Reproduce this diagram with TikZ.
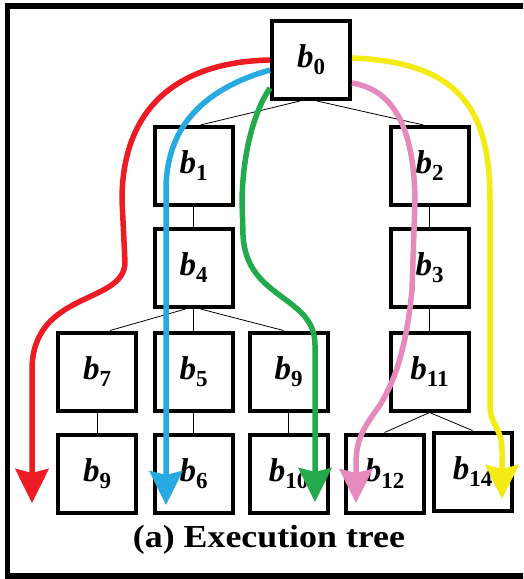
\documentclass[tikz,border=0pt]{standalone}
\usepackage{fontspec}
\setmainfont{Liberation Serif}
\usetikzlibrary{arrows.meta}

\definecolor{pathred}{RGB}{237,28,36}
\definecolor{pathblue}{RGB}{39,170,225}
\definecolor{pathgreen}{RGB}{34,170,76}
\definecolor{pathpink}{RGB}{230,138,190}
\definecolor{pathyellow}{RGB}{245,235,20}

% block label: bold italic b with an upright bold subscript
\newcommand{\blab}[1]{{\fontsize{33}{33}\selectfont\bfseries\itshape b}\raisebox{-7pt}{\fontsize{23}{23}\selectfont\bfseries #1}}

\tikzset{
  blk/.style={draw, line width=4pt, minimum width=78pt, minimum height=78pt,
              inner sep=0pt, fill=white},
  treeedge/.style={line width=0.8pt},
  route/.style={line width=5.5pt, line join=round,
                -{Stealth[length=34pt,width=33pt,inset=4pt]}},
}

\begin{document}
\begin{tikzpicture}[x=1pt,y=-1pt]
  \clip (0,0) rectangle (523,579);
  \fill[white] (0,0) rectangle (523,579);

  % outer frame
  \draw[line width=5.5pt] (7.5,6) rectangle (545,576);

  % blocks of the execution tree
  \node[blk] (b0)  at (311,60)    {\blab{0}};
  \node[blk] (b1)  at (193.5,166) {\blab{1}};
  \node[blk] (b2)  at (429.5,166) {\blab{2}};
  \node[blk] (b4)  at (193.5,268) {\blab{4}};
  \node[blk] (b3)  at (429.5,268) {\blab{3}};
  \node[blk] (b7)  at (97,371.5)    {\blab{7}};
  \node[blk] (b5)  at (193.5,371.5) {\blab{5}};
  \node[blk] (b9a) at (288.5,371.5) {\blab{9}};
  \node[blk] (b11) at (429.5,371.5) {\blab{11}};
  \node[blk] (b9b) at (97,473.5)    {\blab{9}};
  \node[blk] (b6)  at (193.5,473.5) {\blab{6}};
  \node[blk] (b10) at (288.5,473.5) {\blab{10}};
  \node[blk] (b12) at (384.5,473.5) {\blab{12}};
  \node[blk] (b14) at (472.5,471.5) {\blab{14}};

  % tree edges
  \draw[treeedge] ([xshift=-11pt]b0.south) -- ([xshift=7pt]b1.north);
  \draw[treeedge] ([xshift=6pt]b0.south) -- ([xshift=-6pt]b2.north);
  \draw[treeedge] (b1.south) -- (b4.north);
  \draw[treeedge] (b2.south) -- (b3.north);
  \draw[treeedge] ([xshift=-8pt]b4.south) -- ([xshift=13pt]b7.north);
  \draw[treeedge] (b4.south) -- (b5.north);
  \draw[treeedge] ([xshift=7pt]b4.south) -- ([xshift=-5pt]b9a.north);
  \draw[treeedge] (b3.south) -- (b11.north);
  \draw[treeedge] (b7.south) -- (b9b.north);
  \draw[treeedge] (b5.south) -- (b6.north);
  \draw[treeedge] (b9a.south) -- (b10.north);
  \draw[treeedge] (b11.south) -- (b12.north);
  \draw[treeedge] (b11.south) -- (b14.north);

  % end points of the execution paths
  \coordinate (redend)    at (32,503);
  \coordinate (blueend)   at (166,505);
  \coordinate (greenend)  at (315,502);
  \coordinate (pinkend)   at (356,503);
  \coordinate (yellowend) at (502,499);

  % execution paths
  \draw[route, pathred] (b0.west) .. controls (175,62) and (122,110) .. (122,200)
    -- (125,262) .. controls (125,305) and (32,290) .. (32,370) -- (redend);
  \draw[route, pathblue] ([yshift=-10pt]b0.west) .. controls (200,90) and (166,130) .. (166,190)
    -- (blueend);
  \draw[route, pathgreen] ([yshift=-28pt]b0.west) .. controls (255,110) and (243,150) .. (242,200)
    -- (243,235) .. controls (246,300) and (315,295) .. (315,345) -- (greenend);
  \draw[route, pathpink] ([yshift=-23pt]b0.east) .. controls (395,90) and (414,130) .. (415,200)
    -- (412,290) .. controls (406,350) and (395,380) .. (380,405)
    .. controls (362,430) and (356,440) .. (356,465) -- (pinkend);
  \draw[route, pathyellow] ([yshift=2pt]b0.east) .. controls (460,62) and (490,110) .. (490,200)
    -- (490,405) .. controls (490,425) and (502,428) .. (502,450) -- (yellowend);

  % caption
  \node[font=\fontsize{32}{32}\selectfont\bfseries] (cap) at (269,540)
    {\scalebox{1.12}[1]{(a) Execution tree}};
\end{tikzpicture}
\end{document}
